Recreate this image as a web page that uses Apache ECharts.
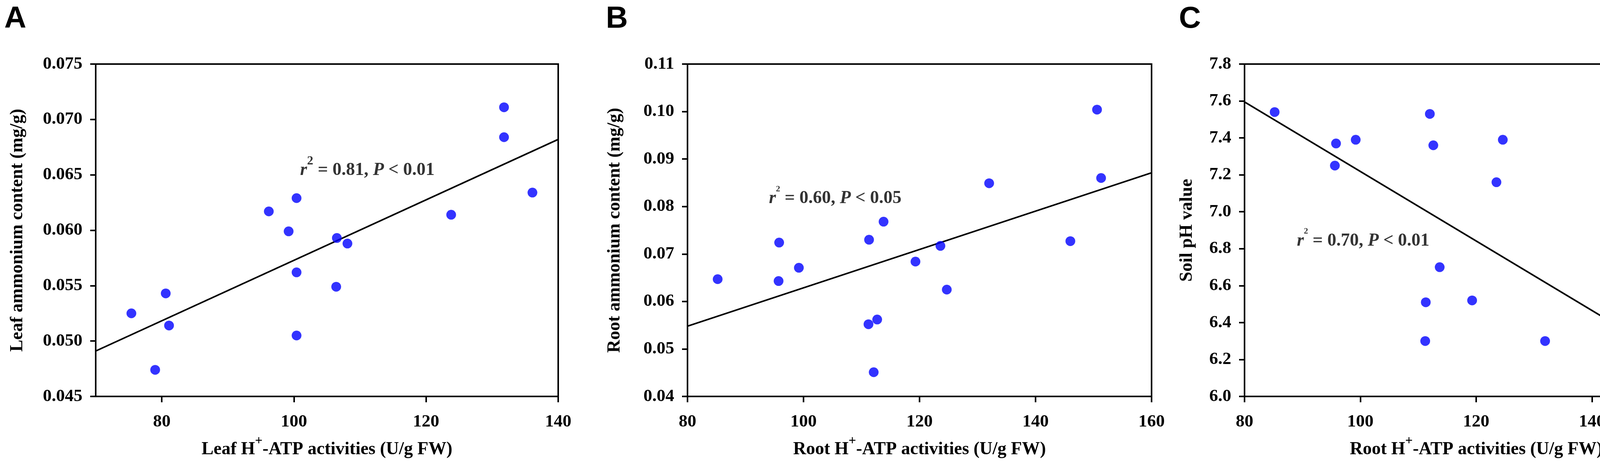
<!DOCTYPE html>
<html>
<head>
<meta charset="utf-8">
<script src="https://cdn.jsdelivr.net/npm/echarts@6.0.0/dist/echarts.min.js"></script>
<style>
  html, body { margin: 0; padding: 0; background: #fff; overflow: hidden; }
  #main { width: 4433px; height: 1188px; }
</style>
</head>
<body>
<div id="main"></div>
<script>
// panel A: leaf H+-ATP vs leaf ammonium
const leafAtp = [75.4, 79.0, 80.6, 81.1, 96.2, 99.2, 100.4, 100.4, 100.4, 106.5, 108.1, 106.4, 123.8, 131.8, 131.8, 136.1];
const leafNh4 = [0.0525, 0.0474, 0.0543, 0.0514, 0.0617, 0.0599, 0.0629, 0.0562, 0.0505, 0.0593, 0.0588, 0.0549, 0.0614, 0.0711, 0.0684, 0.0634];
const fitA = [[70, 0.0491], [140, 0.0682]];

// panel B: root H+-ATP vs root ammonium
const rootAtpB = [85.2, 95.7, 95.8, 99.2, 111.3, 111.2, 112.7, 112.1, 113.8, 119.3, 123.6, 124.7, 132.0, 146.0, 150.6, 151.3];
const rootNh4 = [0.0647, 0.0643, 0.0724, 0.0671, 0.0730, 0.0552, 0.0562, 0.0451, 0.0768, 0.0684, 0.0717, 0.0625, 0.0849, 0.0727, 0.1004, 0.0860];
const fitB = [[80, 0.0548], [160, 0.0871]];

// panel C: root H+-ATP vs soil pH
const rootAtpC = [85.2, 95.8, 95.6, 99.2, 112.0, 112.6, 124.6, 123.5, 113.7, 111.3, 119.3, 111.2, 131.9, 146.0, 150.6, 151.2];
const soilPh = [7.54, 7.37, 7.25, 7.39, 7.53, 7.36, 7.39, 7.16, 6.70, 6.51, 6.52, 6.30, 6.30, 6.16, 6.285, 6.39];
const fitC = [[80, 7.595], [160, 6.089]];

// tick labels
const ticksXA = [80, 100, 120, 140];
const ticksXBC = [80, 100, 120, 140, 160];

// annotation anchors (left-middle of the text) and texts
const annoA = [100.9, 0.0657];
const annoB = [94.0, 0.0822];
const annoC = [89.0, 6.855];
const statA = ['0.81', '0.01'];
const statB = ['0.60', '0.05'];
const statC = ['0.70', '0.01'];

const panelLetters = ['A', 'B', 'C'];

const SERIF = "'Liberation Serif', 'Times New Roman', serif";
const FS = 45;

const chart = echarts.init(document.getElementById('main'), null, { renderer: 'canvas' });

function zip(xs, ys) {
  return xs.map((x, i) => [x, ys[i]]);
}

const textBase = { fontFamily: SERIF, fontWeight: 'bold', color: '#000', fontSize: FS };

function axisNameRich() {
  return {
    t: { ...textBase, fontSize: 46, lineHeight: 46, verticalAlign: 'bottom' },
    sup: { ...textBase, fontSize: 34, lineHeight: 62, verticalAlign: 'top' }
  };
}

function xAxisOf(idx, name, min, max, ticks) {
  return {
    gridIndex: idx,
    type: 'value',
    min: min,
    max: max,
    name: name,
    nameLocation: 'middle',
    nameGap: 97,
    nameTextStyle: { ...textBase, rich: axisNameRich() },
    axisLine: { show: true, onZero: false, lineStyle: { color: '#000', width: 4 } },
    axisTick: { show: true, length: 15, lineStyle: { color: '#000', width: 4 }, customValues: ticks },
    axisLabel: { ...textBase, margin: 43, customValues: ticks },
    splitLine: { show: false }
  };
}

function yAxisOf(idx, name, min, max, step, digits, gap) {
  return {
    gridIndex: idx,
    type: 'value',
    min: min,
    max: max,
    interval: step,
    name: name,
    nameLocation: 'middle',
    nameGap: gap,
    nameTextStyle: { ...textBase, fontSize: 46 },
    axisLine: { show: true, onZero: false, lineStyle: { color: '#000', width: 4 } },
    axisTick: { show: true, length: 14, lineStyle: { color: '#000', width: 4 } },
    axisLabel: { ...textBase, margin: 34, formatter: v => v.toFixed(digits) },
    splitLine: { show: false }
  };
}

function dots(idx, data) {
  return {
    type: 'scatter',
    xAxisIndex: idx,
    yAxisIndex: idx,
    data: data,
    symbol: 'circle',
    symbolSize: 25,
    itemStyle: { color: '#0000ff' },
    z: 5
  };
}

function fit(idx, data) {
  return {
    type: 'line',
    xAxisIndex: idx,
    yAxisIndex: idx,
    data: data,
    symbol: 'none',
    lineStyle: { color: '#000', width: 4 },
    z: 3
  };
}

function anno(idx, pos, stat, bigSup) {
  return {
    type: 'scatter',
    xAxisIndex: idx,
    yAxisIndex: idx,
    data: [pos],
    symbolSize: 1,
    itemStyle: { color: 'rgba(0,0,0,0)' },
    label: {
      show: true,
      position: 'right',
      distance: 0,
      formatter: '{i|r}{sup|2}{t| = ' + stat[0] + ', }{i|P}{t| < ' + stat[1] + '}',
      rich: {
        t: { ...textBase, fontSize: 46, lineHeight: 46, verticalAlign: 'bottom' },
        i: { ...textBase, fontSize: 46, fontStyle: 'italic', lineHeight: 46, verticalAlign: 'bottom' },
        sup: bigSup
          ? { ...textBase, fontSize: 32, lineHeight: 62, verticalAlign: 'top' }
          : { ...textBase, fontSize: 22, lineHeight: 58, verticalAlign: 'top' }
      }
    },
    z: 6
  };
}

const grids = [
  { left: 245, top: 164, width: 1184, height: 851 },
  { left: 1760, top: 164, width: 1188, height: 851 },
  { left: 3186, top: 164, width: 1186, height: 851 }
].map(g => ({ ...g, show: true, borderColor: '#000', borderWidth: 4, backgroundColor: 'transparent' }));

const letterX = [11, 1551, 3018];

const option = {
  backgroundColor: '#fff',
  animation: false,
  grid: grids,
  xAxis: [
    xAxisOf(0, '{t|Leaf H}{sup|+}{t|-ATP activities (U/g FW)}', 70, 140, ticksXA),
    xAxisOf(1, '{t|Root H}{sup|+}{t|-ATP activities (U/g FW)}', 80, 160, ticksXBC),
    xAxisOf(2, '{t|Root H}{sup|+}{t|-ATP activities (U/g FW)}', 80, 160, ticksXBC)
  ],
  yAxis: [
    yAxisOf(0, 'Leaf ammonium content (mg/g)', 0.045, 0.075, 0.005, 3, 177),
    yAxisOf(1, 'Root ammonium content (mg/g)', 0.04, 0.11, 0.01, 2, 163),
    yAxisOf(2, 'Soil pH value', 6.0, 7.8, 0.2, 1, 124)
  ],
  graphic: panelLetters.map((t, i) => ({
    type: 'text',
    x: letterX[i],
    y: 49,
    style: {
      text: t,
      font: "bold 78px 'Liberation Sans', Arial, sans-serif",
      fill: '#000',
      textVerticalAlign: 'middle'
    }
  })),
  series: [
    fit(0, fitA),
    dots(0, zip(leafAtp, leafNh4)),
    anno(0, annoA, statA, true),
    fit(1, fitB),
    dots(1, zip(rootAtpB, rootNh4)),
    anno(1, annoB, statB, false),
    fit(2, fitC),
    dots(2, zip(rootAtpC, soilPh)),
    anno(2, annoC, statC, false)
  ]
};

chart.setOption(option);
</script>
</body>
</html>
